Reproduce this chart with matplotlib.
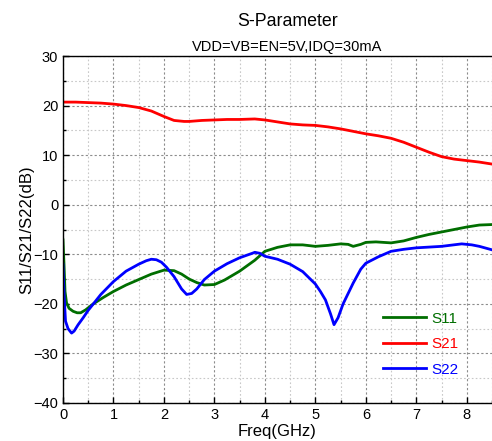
import matplotlib
matplotlib.use("Agg")
import matplotlib.pyplot as plt
from matplotlib.ticker import MultipleLocator

plt.rcParams['font.family'] = ['Liberation Sans', 'DejaVu Sans']

s21_f = [0.0, 0.25, 0.5, 0.75, 1.0, 1.25, 1.5, 1.75, 2.0, 2.2, 2.4, 2.5, 2.75, 3.0, 3.25, 3.5, 3.8, 4.0, 4.25, 4.5, 4.75, 5.0, 5.25, 5.5, 5.75, 6.0, 6.25, 6.5, 6.75, 7.0, 7.25, 7.5, 7.75, 8.0, 8.25, 8.5]
s21_db = [20.7, 20.7, 20.6, 20.5, 20.3, 20.0, 19.6, 18.9, 17.8, 17.0, 16.8, 16.8, 17.0, 17.1, 17.2, 17.2, 17.3, 17.1, 16.7, 16.3, 16.1, 16.0, 15.7, 15.3, 14.8, 14.3, 13.9, 13.4, 12.6, 11.6, 10.6, 9.7, 9.2, 8.9, 8.6, 8.2]

s11_f = [0.0, 0.02, 0.04, 0.07, 0.12, 0.2, 0.28, 0.35, 0.45, 0.6, 0.8, 1.0, 1.25, 1.5, 1.75, 2.0, 2.2, 2.35, 2.5, 2.65, 2.8, 3.0, 3.2, 3.5, 3.8, 4.0, 4.25, 4.5, 4.75, 5.0, 5.25, 5.5, 5.65, 5.75, 5.9, 6.0, 6.2, 6.5, 6.75, 7.0, 7.25, 7.5, 7.75, 8.0, 8.25, 8.5]
s11_db = [-7.1, -12.0, -17.5, -19.8, -20.9, -21.5, -21.8, -21.8, -21.2, -20.0, -18.7, -17.5, -16.2, -15.1, -14.0, -13.2, -13.3, -14.0, -15.0, -15.7, -16.2, -16.1, -15.2, -13.4, -11.2, -9.4, -8.6, -8.1, -8.1, -8.4, -8.2, -7.9, -8.0, -8.4, -8.0, -7.6, -7.5, -7.7, -7.3, -6.6, -6.0, -5.5, -5.0, -4.5, -4.1, -4.0]

s22_f = [0.0, 0.02, 0.05, 0.1, 0.17, 0.22, 0.3, 0.4, 0.5, 0.75, 1.0, 1.25, 1.5, 1.65, 1.75, 1.85, 1.95, 2.05, 2.2, 2.35, 2.45, 2.55, 2.65, 2.8, 3.0, 3.25, 3.5, 3.75, 3.8, 3.9, 4.0, 4.25, 4.5, 4.75, 5.0, 5.1, 5.2, 5.3, 5.37, 5.45, 5.55, 5.75, 5.9, 6.0, 6.25, 6.5, 6.75, 7.0, 7.5, 7.9, 8.1, 8.25, 8.5]
s22_db = [-12.0, -18.0, -23.5, -25.0, -25.9, -25.5, -24.2, -22.8, -21.3, -18.1, -15.5, -13.4, -12.0, -11.3, -11.0, -11.1, -11.6, -12.6, -14.5, -17.0, -18.1, -17.9, -17.0, -15.1, -13.4, -11.9, -10.7, -9.8, -9.6, -9.8, -10.4, -11.0, -12.0, -13.5, -16.0, -17.5, -19.2, -22.0, -24.2, -22.8, -20.0, -15.8, -13.0, -11.8, -10.5, -9.4, -9.0, -8.7, -8.4, -7.9, -8.1, -8.4, -9.1]

labels = ['S11', 'S21', 'S22']
colors = ['#006e00', '#ff0000', '#0000ff']

fig = plt.figure(figsize=(4.92, 4.41), dpi=100)
ax = fig.add_axes([63/492, 38/441, (492-63)/492, (403-56)/441])

ax.plot(s11_f, s11_db, color=colors[0], lw=2.0, label=labels[0])
ax.plot(s21_f, s21_db, color=colors[1], lw=2.0, label=labels[1])
ax.plot(s22_f, s22_db, color=colors[2], lw=2.0, label=labels[2])

ax.set_xlim(0, 8.5)
ax.set_ylim(-40, 30)
ax.xaxis.set_major_locator(MultipleLocator(1))
ax.xaxis.set_minor_locator(MultipleLocator(0.5))
ax.yaxis.set_major_locator(MultipleLocator(10))
ax.yaxis.set_minor_locator(MultipleLocator(5))
ax.grid(which='major', linestyle=(0, (2, 2)), color='#8c8c8c', lw=0.8)
ax.grid(which='minor', linestyle=(0, (1.5, 2)), color='#c8c8c8', lw=0.8)
ax.tick_params(which='both', direction='in', labelsize=10.5, width=1)
ax.tick_params(which='major', length=4)
ax.tick_params(which='minor', length=2.5)
ax.spines['right'].set_visible(False)
for side in ['left', 'bottom', 'top']:
    ax.spines[side].set_linewidth(1.0)

ax.set_xlabel('Freq(GHz)', fontsize=12, labelpad=1.5)
ax.set_ylabel('S11/S21/S22(dB)', fontsize=12, labelpad=-0.5)

fig.text(0.584, 0.952, 'S-Parameter', ha='center', va='center', fontsize=12.8)
fig.text(0.584, 0.893, 'VDD=VB=EN=5V,IDQ=30mA', ha='center', va='center', fontsize=10.5)

leg = ax.legend(loc='lower right', bbox_to_anchor=(0.955, 0.036), frameon=False, fontsize=11,
                handlelength=2.8, labelspacing=0.75, handletextpad=0.4)
for t, c in zip(leg.get_texts(), colors):
    t.set_color(c)

fig.savefig('out.png', dpi=100)
